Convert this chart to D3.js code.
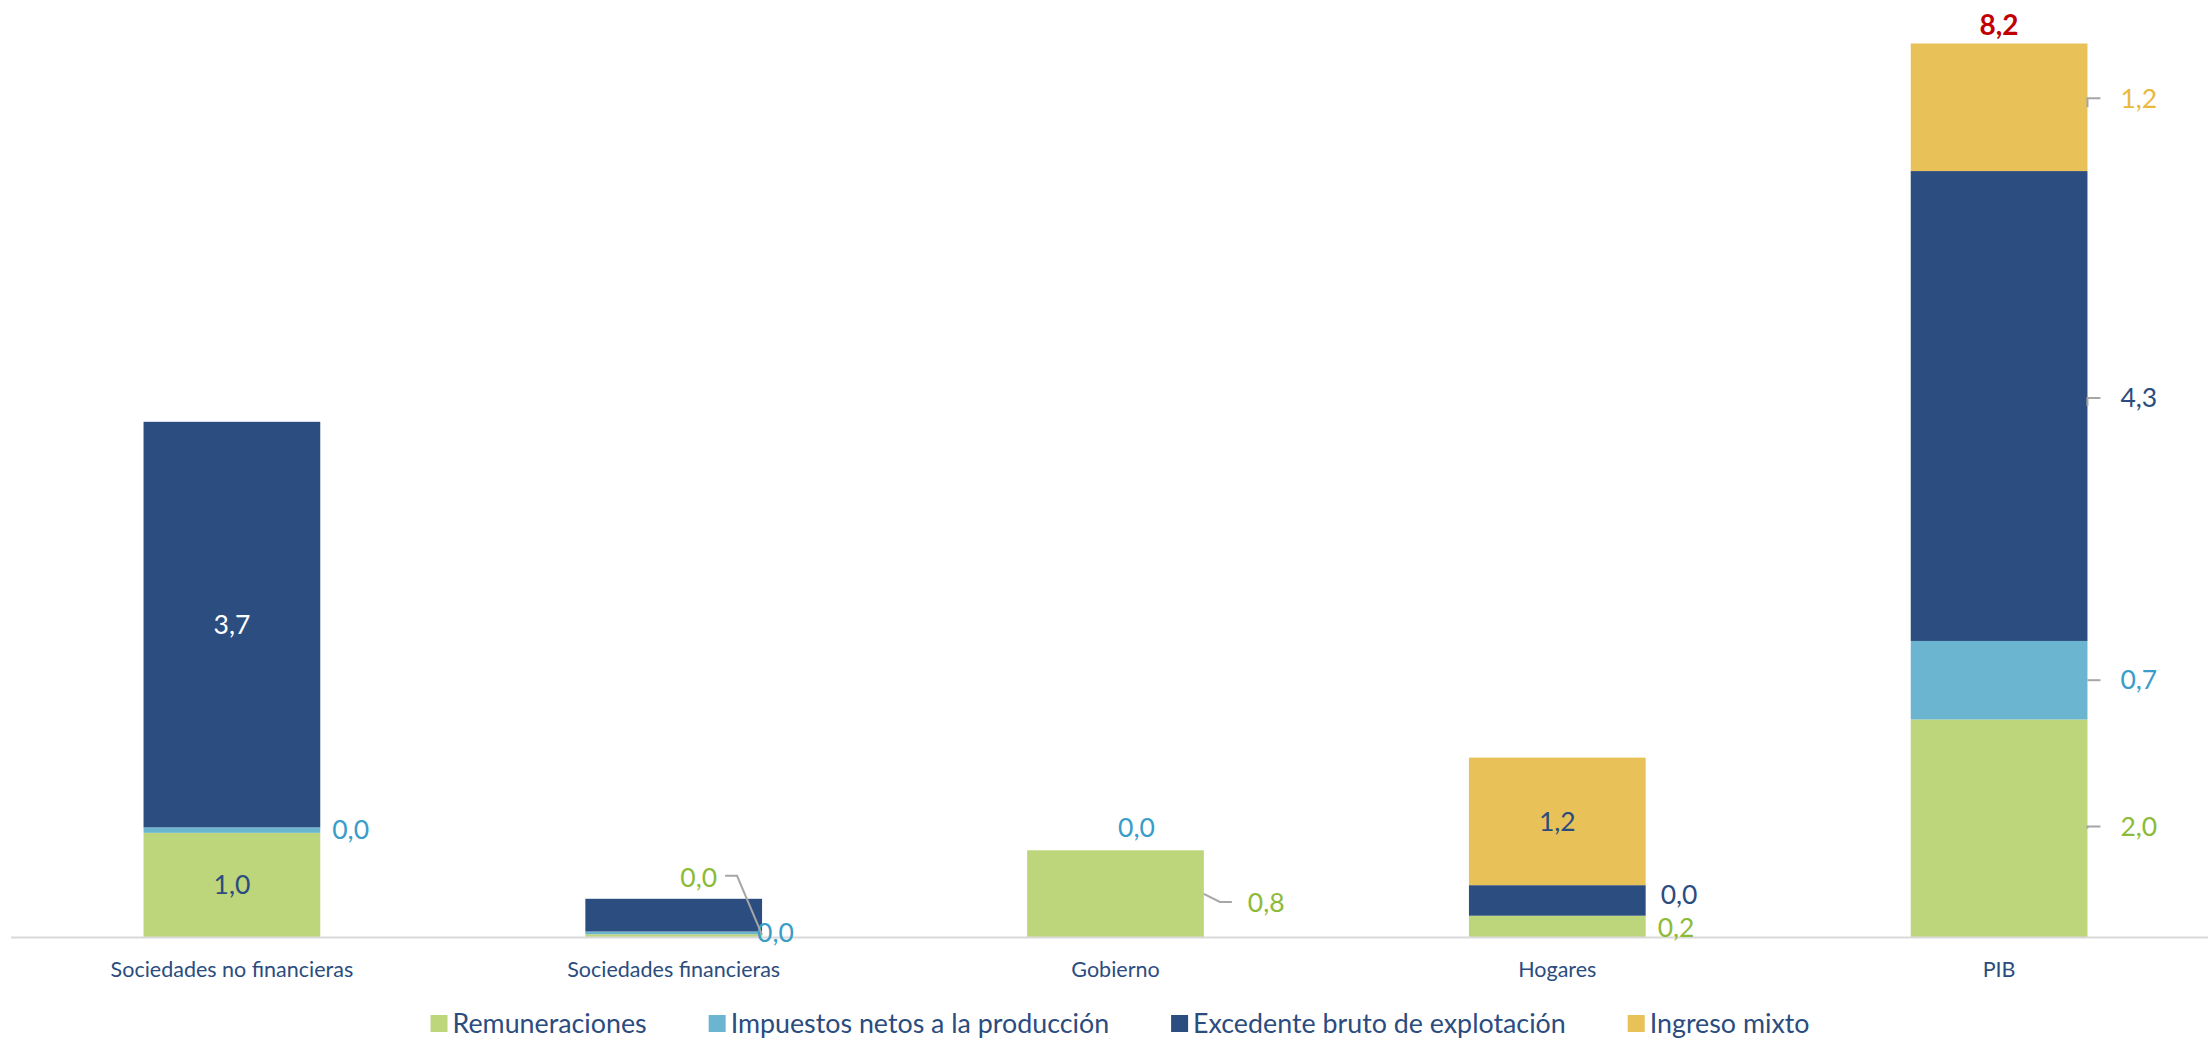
<!DOCTYPE html>
<html>
<head>
<meta charset="utf-8">
<script src="https://cdn.jsdelivr.net/npm/d3@7"></script>
<style>
  body { margin: 0; background: #fff; }
  text { font-family: Lato, "Open Sans", sans-serif; }
</style>
</head>
<body>
<div class="chart"></div>
<script>
// categorías y series (puntos porcentuales)
var categorias = ["Sociedades no financieras", "Sociedades financieras", "Gobierno", "Hogares", "PIB"];
var series = ["Remuneraciones", "Impuestos netos a la producción", "Excedente bruto de explotación", "Ingreso mixto"];

var remuneraciones = [0.96, 0.03, 0.80, 0.20, 2.00];
var impuestos      = [0.05, 0.025, 0.00, 0.00, 0.72];
var excedente      = [3.72, 0.30, 0.00, 0.28, 4.31];
var mixto          = [0.00, 0.00, 0.00, 1.17, 1.17];

// etiquetas tal como aparecen en el gráfico (null = sin etiqueta)
var etqRem = ["1,0", "0,0", "0,8", "0,2", "2,0"];
var etqImp = ["0,0", "0,0", "0,0", null, "0,7"];
var etqExc = ["3,7", null, null, "0,0", "4,3"];
var etqMix = [null, null, null, "1,2", "1,2"];
var etqTotal = [null, null, null, null, "8,2"];

var W = 2208, H = 1040;
var colores = ["#bdd67b", "#6cb5d1", "#2c4d7f", "#e8c258"];
var coloresEtq = ["#8cbb3a", "#3a9dc8", "#2b4c7e", "#e8b93c"];
var navy = "#2b4c7e";

var svg = d3.select(".chart").append("svg")
    .attr("width", W)
    .attr("height", H);

var x = d3.scaleBand()
    .domain(categorias)
    .range([11, 2220])
    .paddingInner(0.6)
    .paddingOuter(0.3);

var y = d3.scaleLinear()
    .domain([0, 8.2])
    .range([937.5, 43.5]);

var tabla = categorias.map(function(c, i) {
  return {cat: c, s0: remuneraciones[i], s1: impuestos[i], s2: excedente[i], s3: mixto[i]};
});
var stack = d3.stack().keys(["s0", "s1", "s2", "s3"]);
var capas = stack(tabla);
var etiquetas = [etqRem, etqImp, etqExc, etqMix];

svg.append("g").selectAll("g")
  .data(capas)
  .enter().append("g")
    .attr("fill", function(d, i) { return colores[i]; })
  .selectAll("rect")
  .data(function(d) { return d; })
  .enter().append("rect")
    .attr("x", function(d) { return x(d.data.cat); })
    .attr("y", function(d) { return y(d[1]); })
    .attr("width", x.bandwidth())
    .attr("height", function(d) { return y(d[0]) - y(d[1]); });

// línea base
svg.append("line")
    .attr("x1", 11).attr("x2", W)
    .attr("y1", y(0)).attr("y2", y(0))
    .attr("stroke", "#d9d9d9")
    .attr("stroke-width", 2);

// eje x
var xAxis = svg.append("g")
    .attr("transform", "translate(0," + y(0) + ")")
    .call(d3.axisBottom(x).tickSize(0).tickPadding(24));
xAxis.select(".domain").remove();
xAxis.selectAll("text")
    .attr("fill", navy)
    .style("font-size", "21.5px")
    .style("font-family", "Lato, sans-serif");

// colocación de etiquetas: "c" centro, "r" derecha, otras a mano
var lugar = {
  "0-0": {t: "c", color: navy},
  "1-0": {t: "r", dx: 12, dy: 0},
  "2-0": {t: "c", color: "#fff"},
  "0-1": {t: "sf"},
  "1-1": {t: "r", dx: -5, dy: 0},
  "1-2": {t: "top", dx: 21, dy: -23},
  "0-2": {t: "gob"},
  "3-3": {t: "c", color: navy},
  "2-3": {t: "r", dx: 15, dy: -6},
  "0-3": {t: "r", dx: 12, dy: 1},
  "3-4": {t: "pib", dy: -9},
  "2-4": {t: "pib", dy: -8},
  "1-4": {t: "pib", dy: 0},
  "0-4": {t: "pib", dy: -2}
};

var gEtq = svg.append("g").style("font-size", "26.5px");
var lider = svg.append("g").attr("fill", "none").attr("stroke", "#a6a6a6").attr("stroke-width", 2);

capas.forEach(function(capa, s) {
  capa.forEach(function(d, i) {
    var txt = etiquetas[s][i];
    if (!txt) return;
    var L = lugar[s + "-" + i];
    var x0 = x(d.data.cat), xr = x0 + x.bandwidth(), xc = x0 + x.bandwidth() / 2;
    var mid = (y(d[0]) + y(d[1])) / 2;
    var col = L.color || coloresEtq[s];
    var t = gEtq.append("text").text(txt).attr("fill", col).attr("dy", "0.35em");
    if (L.t === "c") {
      t.attr("x", xc).attr("y", mid).attr("text-anchor", "middle");
    } else if (L.t === "r") {
      t.attr("x", xr + L.dx).attr("y", mid + L.dy);
    } else if (L.t === "top") {
      t.attr("x", xc + L.dx).attr("y", y(d[1]) + L.dy).attr("text-anchor", "middle");
    } else if (L.t === "sf") {
      var ty = y(capas[3][i][1]) - 21;
      t.attr("x", xr - 45).attr("y", ty).attr("text-anchor", "end");
      lider.append("polyline")
        .attr("points", [[xr - 37, ty - 2], [xr - 25, ty - 2], [xr, mid - 1]].join(" "));
    } else if (L.t === "gob") {
      t.attr("x", xr + 44).attr("y", mid + 9);
      lider.append("polyline")
        .attr("points", [[xr, mid], [xr + 16, mid + 8], [xr + 28, mid + 8]].join(" "));
    } else if (L.t === "pib") {
      var ly = mid + L.dy;
      t.attr("x", xr + 33).attr("y", ly);
      lider.append("polyline")
        .attr("points", [[xr, mid], [xr, ly], [xr + 13, ly]].join(" "));
    }
  });
});

// totales
svg.append("g").selectAll("text")
  .data(tabla.filter(function(d, i) { return etqTotal[i]; }))
  .enter().append("text")
    .attr("x", function(d) { return x(d.cat) + x.bandwidth() / 2; })
    .attr("y", function(d) { return y(d.s0 + d.s1 + d.s2 + d.s3) - 9; })
    .attr("text-anchor", "middle")
    .attr("fill", "#c00000")
    .style("font-size", "28px")
    .style("font-weight", "bold")
    .text(function(d) { return etqTotal[categorias.indexOf(d.cat)]; });

// leyenda
var leyenda = svg.append("g").attr("transform", "translate(0,1024)");
var items = leyenda.selectAll("g").data(series).enter().append("g");
items.append("rect")
    .attr("y", -9).attr("width", 17).attr("height", 17)
    .attr("fill", function(d, i) { return colores[i]; });
items.append("text")
    .attr("x", 22).attr("y", 0).attr("dy", "0.35em")
    .attr("fill", navy)
    .style("font-size", "26.8px")
    .text(function(d) { return d; });
var anchos = [];
items.each(function() { anchos.push(this.getBBox().width); });
var total = d3.sum(anchos) + 62 * (series.length - 1);
var pos = 1120 - total / 2;
items.attr("transform", function(d, i) {
  var p = pos;
  pos += anchos[i] + 62;
  return "translate(" + p + ",0)";
});
</script>
</body>
</html>
